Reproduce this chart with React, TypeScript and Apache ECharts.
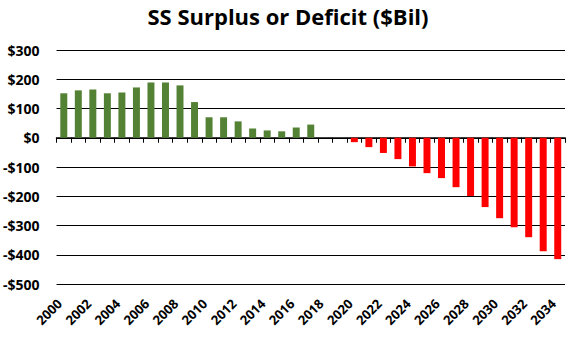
import React, { useEffect, useRef } from "react";
import * as echarts from "echarts";

const years = [
  "2000","2001","2002","2003","2004","2005","2006","2007","2008","2009",
  "2010","2011","2012","2013","2014","2015","2016","2017","2018","2019",
  "2020","2021","2022","2023","2024","2025","2026","2027","2028","2029",
  "2030","2031","2032","2033","2034",
];
const surplus = [
  152, 162, 165, 152, 155, 172, 189, 189, 179, 122,
  70, 70, 56, 32, 25, 22, 35, 45, 0, 0,
  -15, -32, -52, -73, -98, -121, -138, -169, -199, -237,
  -275, -306, -340, -388, -415,
];
const yTicks = { min: -500, max: 300, interval: 100 };

const GREEN = "#548235";
const RED = "#FF0000";
const FONT = "'Open Sans', Lato, sans-serif";

export default function App() {
  const ref = useRef<HTMLDivElement>(null);
  useEffect(() => {
    document.body.style.margin = "0";
    if (!ref.current) return;
    const chart = echarts.init(ref.current, null, { renderer: "svg" });
    chart.setOption({
      animation: false,
      title: {
        text: "SS Surplus or Deficit ($Bil)",
        left: "center",
        top: 0,
        textStyle: { fontFamily: FONT, fontWeight: "bold", fontSize: 22, color: "#000" },
      },
      grid: { left: 54, right: 11, top: 50, bottom: 56 },
      xAxis: [
        {
          type: "category",
          data: years,
          position: "bottom",
          axisLine: { show: false, onZero: false },
          axisTick: { show: false },
          splitLine: { show: false },
          axisLabel: {
            interval: 1,
            rotate: 45,
            margin: 13,
            padding: [0, 6, 0, 0],
            fontFamily: FONT,
            fontWeight: "bold",
            fontSize: 13,
            color: "#000",
          },
        },
        {
          type: "category",
          data: years,
          position: "top",
          axisLine: { show: true, onZero: true, lineStyle: { color: "#000000", width: 1.5 } },
          axisTick: { show: true, inside: true, interval: 0, length: 5, lineStyle: { color: "#000000", width: 1 } },
          axisLabel: { show: false },
          splitLine: { show: false },
        },
      ],
      yAxis: {
        type: "value",
        min: yTicks.min,
        max: yTicks.max,
        interval: yTicks.interval,
        axisLine: { show: false },
        axisTick: { show: false },
        splitLine: { show: true, lineStyle: { color: "#000000", width: 1.2, opacity: 1 } },
        axisLabel: {
          margin: 17,
          fontFamily: FONT,
          fontWeight: "bold",
          fontSize: 14,
          color: "#000",
          formatter: (v: number) => (v < 0 ? "-$" + Math.abs(v) : "$" + v),
        },
      },
      series: [
        {
          type: "bar",
          xAxisIndex: 0,
          barWidth: "48%",
          data: surplus.map((v) => ({
            value: v,
            itemStyle: { color: v >= 0 ? GREEN : RED },
          })),
        },
      ],
    });
    return () => chart.dispose();
  }, []);
  return <div ref={ref} style={{ width: 576, height: 340 }} />;
}
